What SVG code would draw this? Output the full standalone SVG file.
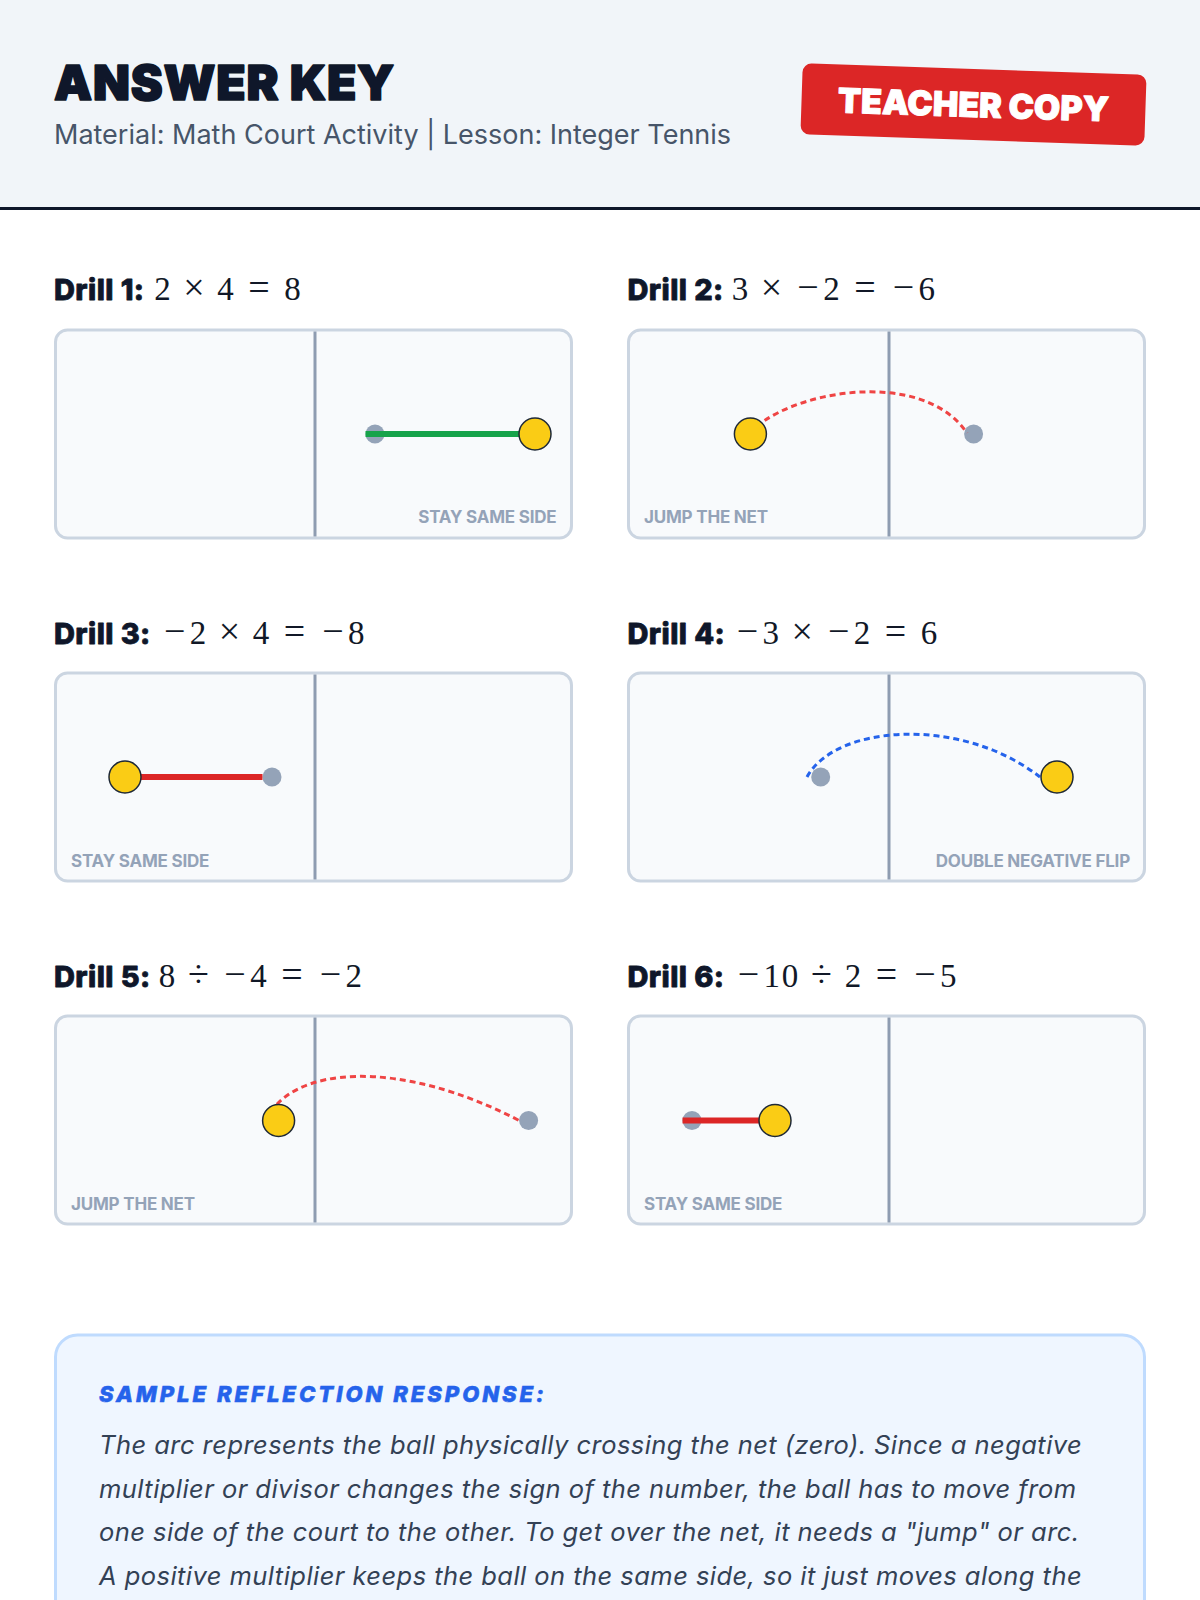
<svg xmlns="http://www.w3.org/2000/svg" width="1200" height="1600" viewBox="0 0 1200 1600">
<style>
.h1{font-family:Inter,"Liberation Sans",sans-serif;font-weight:900;font-size:48px;fill:#0f172a;stroke:#0f172a;stroke-width:1.6px;stroke-linejoin:round;letter-spacing:0.8px}
.sub{font-family:Inter,"Liberation Sans",sans-serif;font-weight:400;font-size:27px;fill:#475569}
.badge{font-family:Inter,"Liberation Sans",sans-serif;font-weight:900;font-size:34px;fill:#ffffff;stroke:#ffffff;stroke-width:1px;stroke-linejoin:round}
.dt{font-family:Inter,"Liberation Sans",sans-serif;font-weight:800;font-size:29px;fill:#0f172a;stroke:#0f172a;stroke-width:0.8px;stroke-linejoin:round;letter-spacing:0.4px}
.m{font-family:"Liberation Serif","Times New Roman",serif;font-size:33px;fill:#111827;text-anchor:middle}
.op{font-size:38px}
.court{fill:#f8fafc;stroke:#cbd5e1;stroke-width:3}
.net{stroke:#8e9cb1;stroke-width:3}
.lbl{font-family:Inter,"Liberation Sans",sans-serif;font-weight:700;font-size:17px;fill:#94a3b8;letter-spacing:-0.2px}
.lr{text-anchor:end}
.gray{fill:#94a3b8}
.ball{fill:#facc15;stroke:#1f2937;stroke-width:1.5}
.bar{stroke-width:6;fill:none}
.arc{fill:none;stroke-width:3;stroke-dasharray:6 4}
.rt{font-family:Inter,"Liberation Sans",sans-serif;font-weight:800;font-style:italic;font-size:22px;fill:#2563eb;stroke:#2563eb;stroke-width:0.6px;letter-spacing:3px}
.body{font-family:Inter,"Liberation Sans",sans-serif;font-style:italic;font-size:25.5px;fill:#334155;letter-spacing:0.45px}
</style>
<rect width="1200" height="1600" fill="#ffffff"/>
<g id="header">
<rect x="0" y="0" width="1200" height="210" fill="#f1f5f9"/>
<line x1="0" y1="208.5" x2="1200" y2="208.5" stroke="#0f172a" stroke-width="3"/>
<text class="h1" x="54" y="99.5">ANSWER KEY</text>
<text class="sub" x="54" y="144">Material: Math Court Activity | Lesson: Integer Tennis</text>
<g id="badge" transform="translate(973.5 104.5) rotate(1.9)">
<rect x="-172" y="-35.5" width="344" height="71" rx="9" fill="#dc2626"/>
<text class="badge" x="0" y="12.5" text-anchor="middle">TEACHER COPY</text>
</g>
</g>

<g id="drill1">
<text class="dt" x="54" y="300">Drill 1:</text>
<text class="m" y="300"><tspan x="162.6">2</tspan><tspan class="op" x="194.05">×</tspan><tspan x="225.5">4</tspan><tspan class="op" x="258.95">=</tspan><tspan x="292.4">8</tspan></text>
<rect class="court" x="55.5" y="330" width="516" height="208" rx="12"/>
<line class="net" x1="315" y1="331.5" x2="315" y2="536.5"/>
<text class="lbl lr" x="556.5" y="523">STAY SAME SIDE</text>
<circle class="gray" cx="375" cy="434" r="9.5"/>
<line class="bar" x1="365.5" y1="434" x2="525.5" y2="434" stroke="#16a34a"/>
<circle class="ball" cx="535" cy="434" r="16"/>
</g>

<g id="drill2">
<text class="dt" x="627.5" y="300">Drill 2:</text>
<text class="m" y="300"><tspan x="740.1">3</tspan><tspan class="op" x="771.55">×</tspan><tspan class="op" x="808.05">−</tspan><tspan x="831.4">2</tspan><tspan class="op" x="864.85">=</tspan><tspan class="op" x="903.4">−</tspan><tspan x="926.7">6</tspan></text>
<rect class="court" x="628.5" y="330" width="516" height="208" rx="12"/>
<line class="net" x1="889" y1="331.5" x2="889" y2="536.5"/>
<text class="lbl" x="644" y="523">JUMP THE NET</text>
<circle class="gray" cx="973.6" cy="434" r="9.5"/>
<path class="arc" d="M 750 434 C 780 394, 920 364, 967 433" stroke="#ef4444"/>
<circle class="ball" cx="750.4" cy="434" r="16"/>
</g>

<g id="drill3">
<text class="dt" x="54" y="643.5">Drill 3:</text>
<text class="m" y="643.5"><tspan class="op" x="174.7">−</tspan><tspan x="198">2</tspan><tspan class="op" x="229.45">×</tspan><tspan x="260.9">4</tspan><tspan class="op" x="294.35">=</tspan><tspan class="op" x="332.9">−</tspan><tspan x="356.2">8</tspan></text>
<rect class="court" x="55.5" y="673" width="516" height="208" rx="12"/>
<line class="net" x1="315" y1="674.5" x2="315" y2="879.5"/>
<text class="lbl" x="71" y="866.5">STAY SAME SIDE</text>
<circle class="gray" cx="272" cy="777" r="9.5"/>
<line class="bar" x1="115.5" y1="777" x2="262.5" y2="777" stroke="#dc2626"/>
<circle class="ball" cx="125" cy="777" r="16"/>
</g>

<g id="drill4">
<text class="dt" x="627.5" y="643.5">Drill 4:</text>
<text class="m" y="643.5"><tspan class="op" x="747.4">−</tspan><tspan x="770.7">3</tspan><tspan class="op" x="802.15">×</tspan><tspan class="op" x="838.65">−</tspan><tspan x="862">2</tspan><tspan class="op" x="895.45">=</tspan><tspan x="928.9">6</tspan></text>
<rect class="court" x="628.5" y="673" width="516" height="208" rx="12"/>
<line class="net" x1="889" y1="674.5" x2="889" y2="879.5"/>
<text class="lbl lr" x="1130" y="866.5">DOUBLE NEGATIVE FLIP</text>
<circle class="gray" cx="820.7" cy="777" r="9.5"/>
<path class="arc" d="M 807 777 C 835 725, 960 715, 1040 777" stroke="#2563eb"/>
<circle class="ball" cx="1057" cy="777" r="16"/>
</g>

<g id="drill5">
<text class="dt" x="54" y="987">Drill 5:</text>
<text class="m" y="987"><tspan x="167.1">8</tspan><tspan class="op" x="198.55">÷</tspan><tspan class="op" x="235.05">−</tspan><tspan x="258.4">4</tspan><tspan class="op" x="291.85">=</tspan><tspan class="op" x="330.4">−</tspan><tspan x="353.7">2</tspan></text>
<rect class="court" x="55.5" y="1016" width="516" height="208" rx="12"/>
<line class="net" x1="315" y1="1017.5" x2="315" y2="1222.5"/>
<text class="lbl" x="71" y="1210">JUMP THE NET</text>
<circle class="gray" cx="528.6" cy="1120.5" r="9.5"/>
<path class="arc" d="M 266 1121 C 290 1065, 400 1058, 520 1121" stroke="#ef4444"/>
<circle class="ball" cx="278.6" cy="1120.5" r="16"/>
</g>

<g id="drill6">
<text class="dt" x="627.5" y="987">Drill 6:</text>
<text class="m" y="987"><tspan class="op" x="748.5">−</tspan><tspan x="771.8">1</tspan><tspan x="790.1">0</tspan><tspan class="op" x="821.5">÷</tspan><tspan x="852.9">2</tspan><tspan class="op" x="886.4">=</tspan><tspan class="op" x="924.95">−</tspan><tspan x="948.3">5</tspan></text>
<rect class="court" x="628.5" y="1016" width="516" height="208" rx="12"/>
<line class="net" x1="889" y1="1017.5" x2="889" y2="1222.5"/>
<text class="lbl" x="644" y="1210">STAY SAME SIDE</text>
<circle class="gray" cx="692" cy="1120.5" r="9.5"/>
<line class="bar" x1="682.5" y1="1120.5" x2="765.5" y2="1120.5" stroke="#dc2626"/>
<circle class="ball" cx="775" cy="1120.5" r="16"/>
</g>

<g id="reflection">
<rect x="55.5" y="1335" width="1089" height="320" rx="22" fill="#eff6ff" stroke="#bfdbfe" stroke-width="3"/>
<text class="rt" x="99" y="1401.5">SAMPLE REFLECTION RESPONSE:</text>
<text class="body" x="99" y="1454">The arc represents the ball physically crossing the net (zero). Since a negative</text>
<text class="body" x="99" y="1497.5">multiplier or divisor changes the sign of the number, the ball has to move from</text>
<text class="body" x="99" y="1541">one side of the court to the other. To get over the net, it needs a "jump" or arc.</text>
<text class="body" x="99" y="1584.5">A positive multiplier keeps the ball on the same side, so it just moves along the</text>
</g>
</svg>
